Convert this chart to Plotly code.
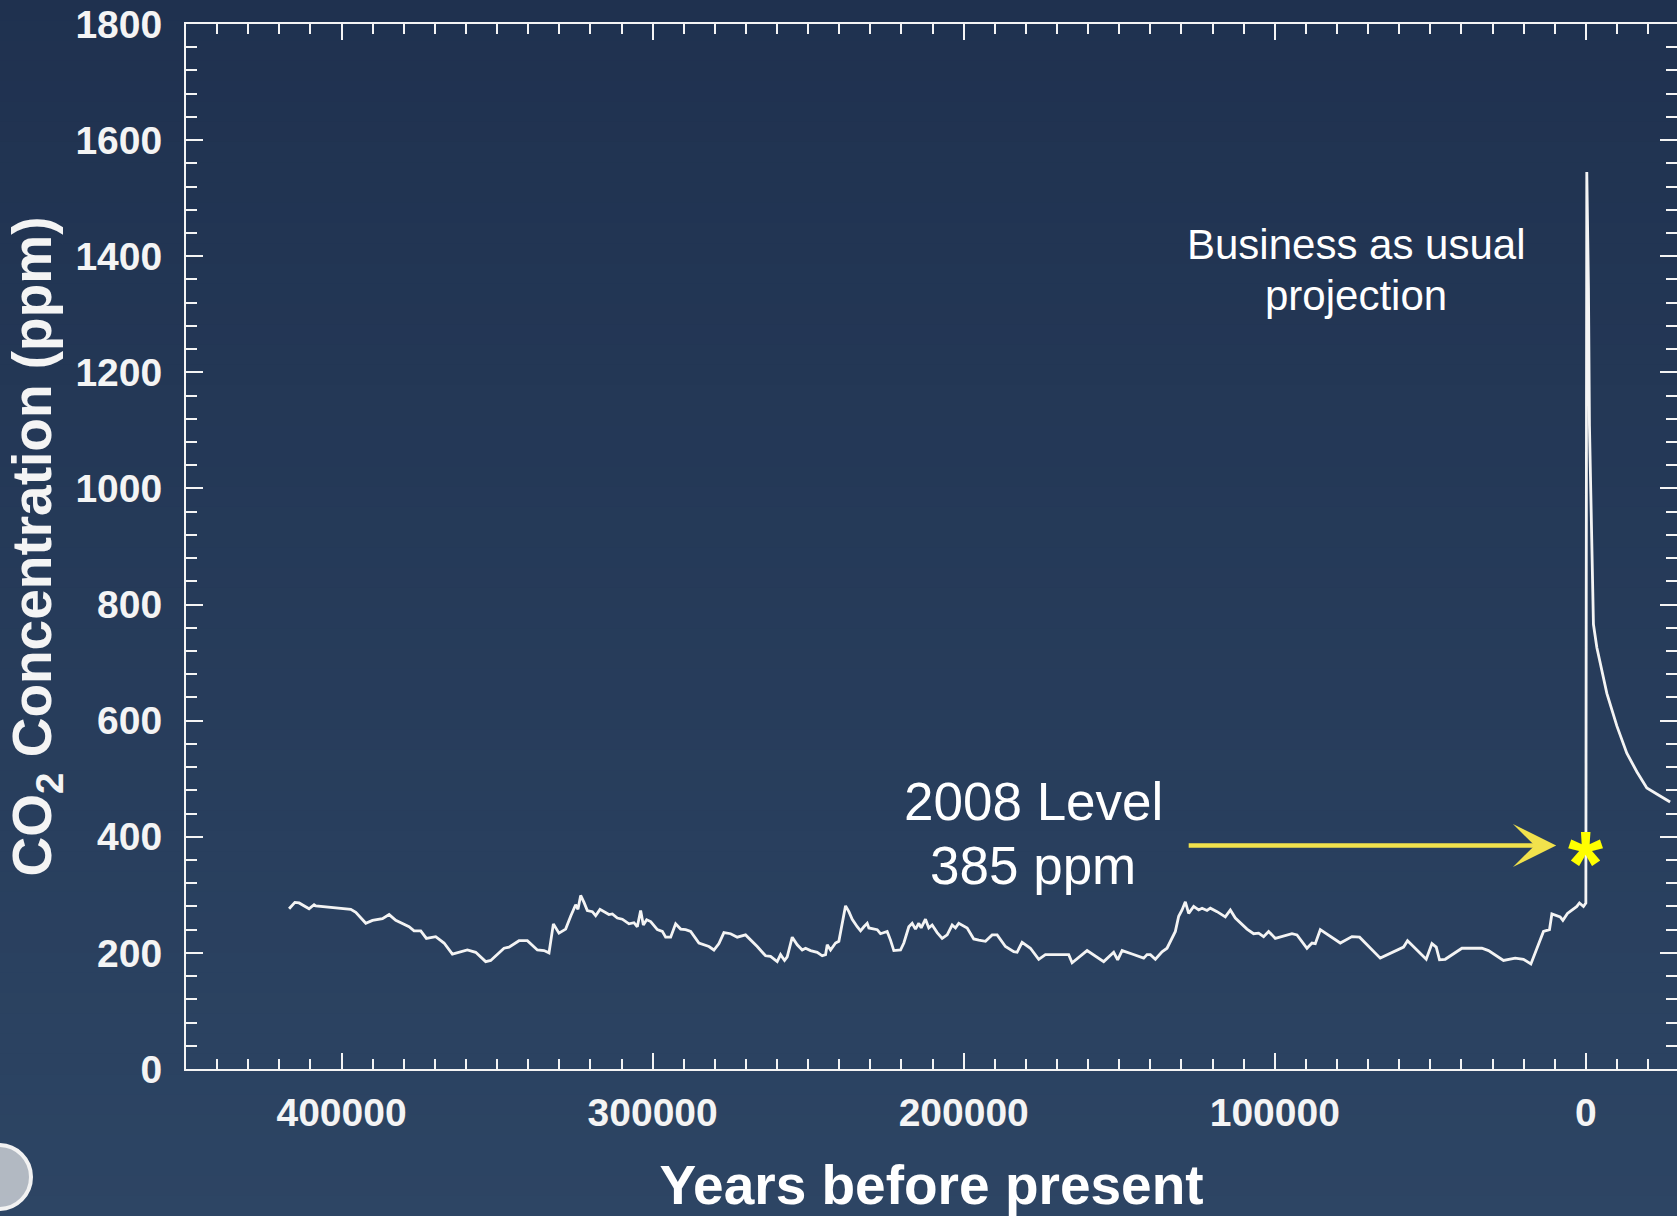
import plotly.graph_objects as go

# Vostok ice-core CO2 record (years before present, ppm)
ice_years = [
    416860, 415000, 413650, 410440, 408830, 408280, 397030, 395420, 392200, 390060,
    386850, 384710, 382570, 379360, 378290, 376680, 374540, 372720, 369730, 367050,
    364370, 359550, 356870, 353660, 352050, 347770, 346160, 342950, 340270, 337050,
    334910, 333310, 331900, 330100, 327950, 326350, 324740, 324000, 323130, 322060,
    320990, 319380, 318310, 316920, 314030, 312950, 311340, 309730, 307600, 306000,
    304920, 303850, 302980, 301910, 300630, 298480, 296870, 295810, 294200, 292600,
    290990, 289380, 287770, 285110, 281890, 280290, 278680, 277080, 274930, 272790,
    270120, 266370, 263700, 262090, 259950, 258870, 257590, 256730, 255120, 253520,
    251910, 250840, 249230, 247090, 245480, 244410, 243870, 242800, 241200, 240130,
    237980, 236910, 235840, 234230, 233160, 232090, 231020, 230490, 227810, 226740,
    224600, 223530, 222460, 220310, 219240, 217640, 216560, 215500, 214430, 213660,
    212290, 211220, 210130, 208530, 206920, 205310, 203710, 202640, 201580, 198880,
    196770, 195160, 193000, 190860, 189250, 186580, 183910, 182840, 181230, 178550,
    175880, 173730, 166240, 165150, 160330, 154990, 151780, 150500, 149080, 145870,
    142140, 141060, 139990, 138380, 136240, 134640, 133020, 131960, 130890, 129810,
    128750, 127680, 126070, 124470, 123380, 121780, 120710, 118560, 115890, 114280,
    112680, 108920, 106800, 105190, 103590, 101980, 99830, 94470, 92860, 89650,
    88040, 86980, 85370, 82700, 78940, 75190, 72740, 66090, 58600, 57320,
    51310, 49480, 48100, 47040, 45210, 39840, 33420, 31300, 26480, 22720,
    20050, 17670, 13620, 11690, 10920, 8260, 7390, 5910, 2890, 2060,
    770, 0,
]
ice_ppm = [
    276, 287, 286, 276, 283, 281, 275, 270, 251, 256,
    259, 266, 256, 247, 245, 238, 238, 225, 228, 217,
    198, 205, 201, 185, 187, 208, 210, 221, 221, 205,
    204, 200, 250, 234, 241, 263, 283, 275, 299, 287,
    273, 271, 264, 275, 266, 267, 260, 258, 250, 252,
    245, 273, 248, 257, 254, 240, 237, 227, 227, 250,
    241, 240, 237, 217, 211, 205, 216, 235, 233, 227,
    231, 211, 195, 194, 185, 197, 187, 193, 227, 214,
    205, 208, 204, 201, 195, 197, 214, 205, 217, 220,
    281, 271, 258, 245, 238, 245, 251, 243, 240, 233,
    237, 222, 204, 205, 217, 245, 251, 241, 251, 243,
    258, 243, 248, 235, 225, 231, 248, 243, 251, 243,
    224, 222, 220, 231, 231, 211, 202, 201, 218, 208,
    189, 197, 197, 183, 204, 185, 201, 188, 204, 198,
    191, 197, 197, 189, 202, 208, 225, 237, 263, 274,
    288, 268, 280, 274, 277, 273, 277, 271, 262, 274,
    260, 241, 233, 234, 228, 237, 225, 233, 231, 208,
    217, 216, 240, 231, 217, 228, 227, 191, 210, 221,
    189, 216, 210, 188, 189, 208, 208, 204, 187, 191,
    189, 181, 237, 240, 267, 262, 256, 268, 280, 286,
    280, 286,
]

# business-as-usual projection (negative = years in the future)
proj_years = [-300, -835, -1160, -1600, -1930, -2440, -3530, -6750, -9960,
              -13170, -16390, -19600, -23330, -27090]
proj_ppm = [1545, 1346, 1108, 990, 870, 766, 726, 647, 591,
            544, 512, 484, 472, 460]

level_2008_year = 0
level_2008_ppm = 385

W, H = 1677, 1216
ML, MR, MT, MB = 186, 0, 24, 147
PW, PH = W - ML - MR, H - MT - MB

font_main = 'Liberation Sans, Arial, sans-serif'
white = '#f4f4f4'


def paper_xy(px, py):
    # pixel position on the page -> paper coordinates
    return (px - ML) / PW, (H - MB - py) / PH


fig = go.Figure()

fig.add_trace(go.Scatter(
    x=ice_years + proj_years,
    y=ice_ppm + proj_ppm,
    mode='lines',
    line=dict(color=white, width=2.8),
    showlegend=False,
    hoverinfo='skip',
))

# empty trace so the right-hand tick axis is drawn
fig.add_trace(go.Scatter(x=[None], y=[None], yaxis='y2', showlegend=False, hoverinfo='skip'))

# background gradient
shapes = []
top_rgb, bot_rgb = (31, 49, 79), (45, 69, 100)
nb = 60
for i in range(nb):
    t = (i + 0.5) / nb
    c = tuple(round(a + (b - a) * t) for a, b in zip(top_rgb, bot_rgb))
    p0 = i * H / nb
    p1 = (i + 1) * H / nb + 1
    shapes.append(dict(
        type='rect', xref='paper', yref='paper', layer='below',
        x0=-ML / PW - 0.01, x1=1.01,
        y0=(H - MB - p0) / PH, y1=(H - MB - p1) / PH,
        fillcolor='rgb(%d,%d,%d)' % c, line=dict(width=0),
    ))

# logo stub in the bottom-left corner
lx0, ly0 = paper_xy(-33, 1145)
lx1, ly1 = paper_xy(31, 1209)
shapes.append(dict(
    type='circle', xref='paper', yref='paper', layer='above',
    x0=lx0, x1=lx1, y0=ly0, y1=ly1,
    line=dict(color='#f2f2f2', width=4), fillcolor='rgba(235,235,235,0.7)',
))

minor_x = dict(dtick=10000, ticklen=10, tickwidth=1.6, tickcolor=white, ticks='inside')
minor_y = dict(dtick=40, ticklen=11, tickwidth=1.6, tickcolor=white, ticks='inside')

ann = []
for txt, px, py, size in [
    ('Business as usual', 1356, 244, 42),
    ('projection', 1356, 295, 42),
    ('2008 Level', 1033, 802, 53),
    ('385 ppm', 1033, 866, 53),
]:
    xp, yp = paper_xy(px, py)
    ann.append(dict(text=txt, x=xp, y=yp, xref='paper', yref='paper',
                    xanchor='center', yanchor='middle', showarrow=False,
                    font=dict(size=size, color='#ffffff', family=font_main)))

# yellow arrow pointing at the 2008 level
ann.append(dict(
    text='', x=9540, y=level_2008_ppm, xref='x', yref='y',
    ax=-369, ay=0, axref='pixel', ayref='pixel',
    showarrow=True, arrowhead=3, arrowsize=1.6, arrowwidth=4.5,
    arrowcolor='#f2e24c', standoff=0,
))
# asterisk marking 2008 level
ann.append(dict(
    text='<b>*</b>', x=level_2008_year, y=level_2008_ppm, xref='x', yref='y',
    showarrow=False, xanchor='center', yanchor='middle', yshift=-19,
    font=dict(size=90, color='#ffff00', family=font_main),
))

fig.update_layout(
    width=W, height=H,
    margin=dict(l=ML, r=MR, t=MT, b=MB, pad=0),
    paper_bgcolor='#263c5a',
    plot_bgcolor='rgba(0,0,0,0)',
    font=dict(family=font_main, color=white),
    shapes=shapes,
    annotations=ann,
    xaxis=dict(
        range=[450000, -29300],
        tickmode='linear', tick0=0, dtick=100000, tickformat='d',
        ticks='inside', ticklen=16, tickwidth=2.2, tickcolor=white,
        minor=minor_x,
        showline=True, linecolor=white, linewidth=2, mirror='ticks',
        showgrid=False, zeroline=False,
        tickfont=dict(size=39, color=white, family=font_main, weight='bold'),
        ticklabelstandoff=8,
        title=dict(text='<b>Years before present</b>', standoff=37,
                   font=dict(size=55, color='#ffffff', family=font_main)),
    ),
    yaxis=dict(
        range=[0, 1800],
        tickmode='linear', tick0=0, dtick=200, tickformat='d',
        ticks='inside', ticklen=17, tickwidth=2.2, tickcolor=white,
        minor=minor_y,
        showline=True, linecolor=white, linewidth=2, mirror=False,
        showgrid=False, zeroline=False,
        tickfont=dict(size=39, color=white, family=font_main, weight='bold'),
        ticklabelstandoff=14,
        title=dict(text='<b>CO<sub>2</sub> Concentration (ppm)</b>', standoff=6,
                   font=dict(size=55, color=white, family=font_main)),
    ),
    yaxis2=dict(
        overlaying='y', side='right', anchor='x',
        range=[0, 1800], tickmode='linear', tick0=0, dtick=200,
        ticks='inside', ticklen=17, tickwidth=2.2, tickcolor=white,
        minor=minor_y,
        showline=False, showgrid=False, zeroline=False, showticklabels=False,
    ),
)

fig.write_html('out.html', config={'displayModeBar': False},
               post_script="document.body.style.margin='0';")
